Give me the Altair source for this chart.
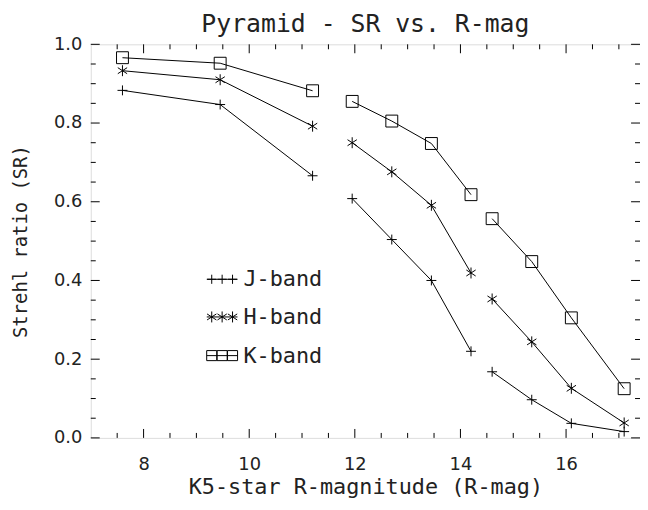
import altair as alt
import pandas as pd

# ---- data ----
x_mag = [7.6, 9.45, 11.2, 11.95, 12.7, 13.45, 14.2, 14.6, 15.35, 16.1, 17.1]
segment = [0, 0, 0, 1, 1, 1, 1, 2, 2, 2, 2]
j_sr = [0.883, 0.847, 0.666, 0.608, 0.504, 0.400, 0.220, 0.168, 0.097, 0.037, 0.016]
h_sr = [0.933, 0.910, 0.792, 0.750, 0.676, 0.591, 0.419, 0.353, 0.244, 0.126, 0.038]
k_sr = [0.966, 0.952, 0.882, 0.855, 0.805, 0.748, 0.618, 0.557, 0.448, 0.305, 0.125]
bands = ["J-band", "H-band", "K-band"]

x_major = [8, 10, 12, 14, 16]
x_minor = [v / 2 for v in range(15, 35) if v % 4 != 0]
y_major = [0.0, 0.2, 0.4, 0.6, 0.8, 1.0]
y_minor = [v / 20 for v in range(1, 20) if v % 4 != 0]

FONT = "DejaVu Sans"
MONO = "DejaVu Sans Mono"
TXT = "#222"
W, H = 554, 397

PLUS = "M-1,0L1,0M0,-1L0,1"
STAR = "M0,-1L0,1M-0.85,-0.55L0.85,0.55M-0.85,0.55L0.85,-0.55"
shapes = [PLUS, STAR, "square"]
sizes = [100, 144, 121]

rows = []
for b, vals in zip(bands, [j_sr, h_sr, k_sr]):
    for xv, yv, s in zip(x_mag, vals, segment):
        rows.append({"band": b, "x": xv, "y": yv, "seg": s})
df = pd.DataFrame(rows)

xs = alt.Scale(domain=[7, 17.4], nice=False, zero=False)
ys = alt.Scale(domain=[0, 1.0], nice=False, zero=False)

x_axis = alt.Axis(values=x_major, title="K5-star R-magnitude (R-mag)", ticks=False, tickSize=0,
                  domain=False, grid=False, labelFontSize=18, titleFontSize=22,
                  labelPadding=18, titlePadding=3, labelFont=FONT, titleFont=MONO,
                  labelColor=TXT, titleColor=TXT, titleFontWeight="normal")
y_axis = alt.Axis(values=y_major, format=".1f", title="Strehl ratio (SR)", ticks=False, tickSize=0,
                  domain=False, grid=False, labelFontSize=18, titleFontSize=19,
                  labelPadding=9, titlePadding=23, labelFont=FONT, titleFont=MONO,
                  labelColor=TXT, titleColor=TXT, titleFontWeight="normal")

base = alt.Chart(df)
lines = base.mark_line(color="black", strokeWidth=1).encode(
    x=alt.X("x:Q", scale=xs, axis=x_axis),
    y=alt.Y("y:Q", scale=ys, axis=y_axis),
    detail=["band:N", "seg:N"],
)
points = base.mark_point(filled=False, color="black", strokeWidth=1, opacity=1).encode(
    x=alt.X("x:Q", scale=xs, axis=x_axis),
    y=alt.Y("y:Q", scale=ys, axis=y_axis),
    shape=alt.Shape("band:N", scale=alt.Scale(domain=bands, range=shapes), legend=None),
    size=alt.Size("band:O", scale=alt.Scale(domain=bands, range=sizes), legend=None),
)

def xticks(vals, length):
    d = alt.Chart(pd.DataFrame({"x": vals}))
    bot = d.mark_rule(color="black", strokeWidth=1).encode(
        x=alt.X("x:Q", scale=xs, axis=x_axis), y=alt.value(H), y2=alt.value(H - length))
    top = d.mark_rule(color="black", strokeWidth=1).encode(
        x=alt.X("x:Q", scale=xs, axis=x_axis), y=alt.value(0), y2=alt.value(length))
    return [bot, top]

def yticks(vals, length):
    d = alt.Chart(pd.DataFrame({"y": vals}))
    left = d.mark_rule(color="black", strokeWidth=1).encode(
        y=alt.Y("y:Q", scale=ys, axis=y_axis), x=alt.value(0), x2=alt.value(length))
    right = d.mark_rule(color="black", strokeWidth=1).encode(
        y=alt.Y("y:Q", scale=ys, axis=y_axis), x=alt.value(W), x2=alt.value(W - length))
    return [left, right]

ticks = xticks(x_major, 9) + xticks(x_minor, 5) + yticks(y_major, 9) + yticks(y_minor, 5)

# ---- in-plot legend ----
leg_y = [237, 275, 314]
leg_sym_x = [122, 132.5, 143]
one = alt.Chart(pd.DataFrame({"a": [0]}))
legend_layers = []
for b, shp, sz, ly in zip(bands, shapes, sizes, leg_y):
    legend_layers.append(one.mark_rule(color="black", strokeWidth=1).encode(
        x=alt.value(117), x2=alt.value(148), y=alt.value(ly)))
    for sx in leg_sym_x:
        legend_layers.append(one.mark_point(shape=shp, size=sz * 0.85, filled=False, color="black",
                                            strokeWidth=1, opacity=1).encode(
            x=alt.value(sx), y=alt.value(ly)))
    legend_layers.append(one.mark_text(align="left", baseline="middle", fontSize=22, font=MONO,
                                       color=TXT).encode(
        x=alt.value(154), y=alt.value(ly), text=alt.value(b)))

chart = alt.layer(lines, points, *ticks, *legend_layers).properties(
    width=W, height=H,
    autosize=alt.AutoSizeParams(type="none"),
    padding={"left": 83.5, "top": 34.5, "right": 0, "bottom": 60},
    title=alt.Title("Pyramid - SR vs. R-mag", fontSize=25, font=MONO, fontWeight="normal",
                    color=TXT, offset=0, dy=2, anchor="middle"),
).configure_view(stroke="black", strokeWidth=1).configure(background="white")

chart.save("out.html", embed_options={"renderer": "svg", "actions": False})
